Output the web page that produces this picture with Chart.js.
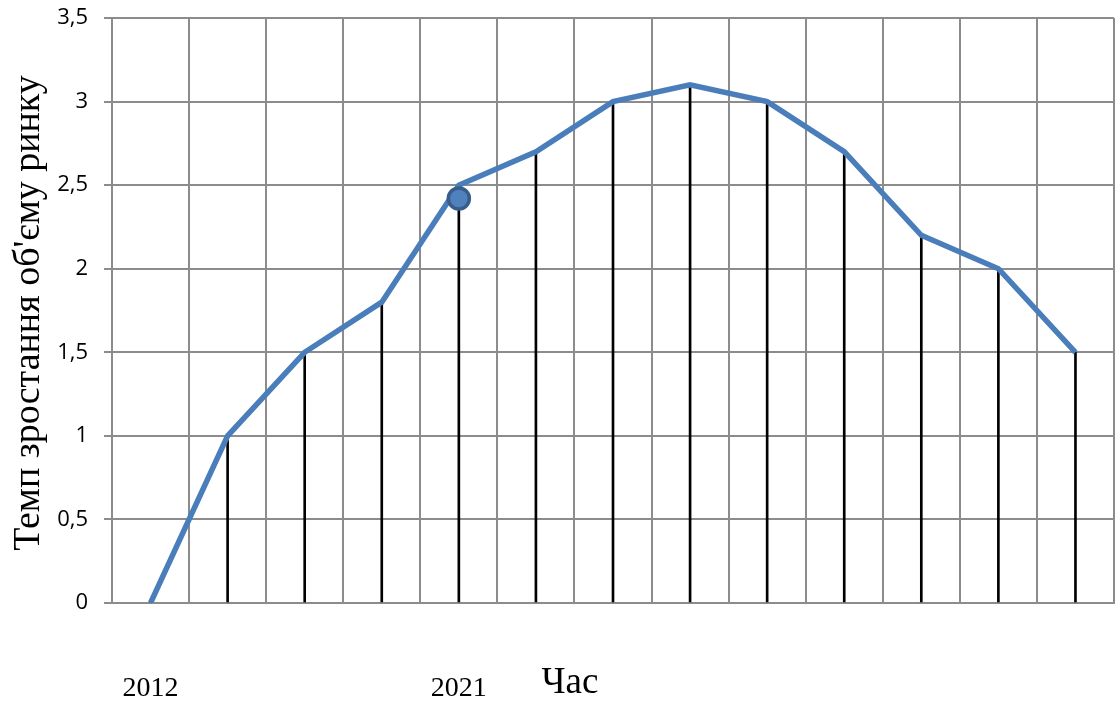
<!DOCTYPE html>
<html>
<head>
<meta charset="utf-8">
<script src="https://cdn.jsdelivr.net/npm/chart.js@4/dist/chart.umd.min.js"></script>
<style>
  html, body { margin: 0; padding: 0; background: #fff; }
  #wrap { width: 1116px; height: 702px; position: relative; }
</style>
</head>
<body>
<div id="wrap"><canvas id="c" width="1116" height="702"></canvas></div>
<script>
// Periods along the time axis; only two of them carry a label
const periods = ['2012', '', '', '', '2021', '', '', '', '', '', '', '', ''];
// Market volume growth rate for each period
const growthRate = [0, 1, 1.5, 1.8, 2.5, 2.7, 3.0, 3.1, 3.0, 2.7, 2.2, 2.0, 1.5];
// Highlighted current position on the curve
const currentMark = [null, null, null, null, 2.42, null, null, null, null, null, null, null, null];
// Axis text
const yTitle = 'Темп зростання об\'єму ринку';
const xTitle = 'Час';

// Stretches the plot area to the right edge of the canvas
const areaPlugin = {
  id: 'plotArea',
  afterLayout(chart) {
    const area = chart.chartArea;
    const target = chart.width - 2;
    if (area.right !== target) {
      area.right = target;
      area.width = area.right - area.left;
      const xs = chart.scales.x;
      xs.right = target;
      xs.width = xs.right - xs.left;
      xs.configure();
    }
  }
};

// Draws the period labels under the axis and both axis titles
const textPlugin = {
  id: 'axisText',
  afterDraw(chart) {
    const ctx = chart.ctx;
    const xs = chart.scales.x;
    ctx.save();
    ctx.fillStyle = '#000';
    ctx.textAlign = 'center';
    ctx.textBaseline = 'alphabetic';

    ctx.font = '28px "Liberation Serif"';
    periods.forEach((p, i) => {
      if (p) ctx.fillText(p, xs.getPixelForTick(i), 696);
    });

    ctx.font = '37px "Liberation Serif"';
    ctx.fillText(xTitle, 570, 693);

    ctx.font = '38px "Liberation Serif"';
    ctx.translate(39, 313);
    ctx.rotate(-Math.PI / 2);
    ctx.fillText(yTitle, 0, 0);
    ctx.restore();
  }
};

function noPadding(scale) {
  scale.paddingTop = 0;
  scale.paddingBottom = 0;
  scale.paddingLeft = 0;
  scale.paddingRight = 0;
}

new Chart(document.getElementById('c'), {
  data: {
    labels: periods,
    datasets: [
      {
        type: 'line',
        data: currentMark,
        showLine: false,
        pointRadius: 10.5,
        pointBackgroundColor: '#4f81bd',
        pointBorderColor: '#385d8a',
        pointBorderWidth: 3.5,
        order: 0
      },
      {
        type: 'line',
        data: growthRate,
        borderColor: '#4a7ebb',
        borderWidth: 5.5,
        pointRadius: 0,
        tension: 0,
        fill: false,
        order: 1
      },
      {
        type: 'bar',
        data: growthRate,
        backgroundColor: '#000',
        barThickness: 2,
        order: 2
      }
    ]
  },
  options: {
    responsive: false,
    animation: false,
    layout: { padding: { top: 18, right: 2, left: 0, bottom: 0 } },
    plugins: { legend: { display: false }, tooltip: { enabled: false } },
    scales: {
      x: {
        type: 'category',
        offset: true,
        grid: { offset: true, color: '#8c8c8c', lineWidth: 2, drawTicks: false },
        border: { display: true, color: '#8c8c8c', width: 2 },
        ticks: { display: false },
        afterFit(scale) {
          scale.height = 99;
          noPadding(scale);
        }
      },
      y: {
        min: 0,
        max: 3.5,
        ticks: {
          stepSize: 0.5,
          color: '#000',
          font: { family: 'Open Sans', size: 22 },
          padding: 16,
          callback: v => String(v).replace('.', ',')
        },
        grid: { color: '#8c8c8c', lineWidth: 2, tickLength: 8 },
        border: { display: true, color: '#8c8c8c', width: 2 },
        afterFit(scale) {
          scale.width = 112;
          noPadding(scale);
        }
      }
    }
  },
  plugins: [areaPlugin, textPlugin]
});
</script>
</body>
</html>
